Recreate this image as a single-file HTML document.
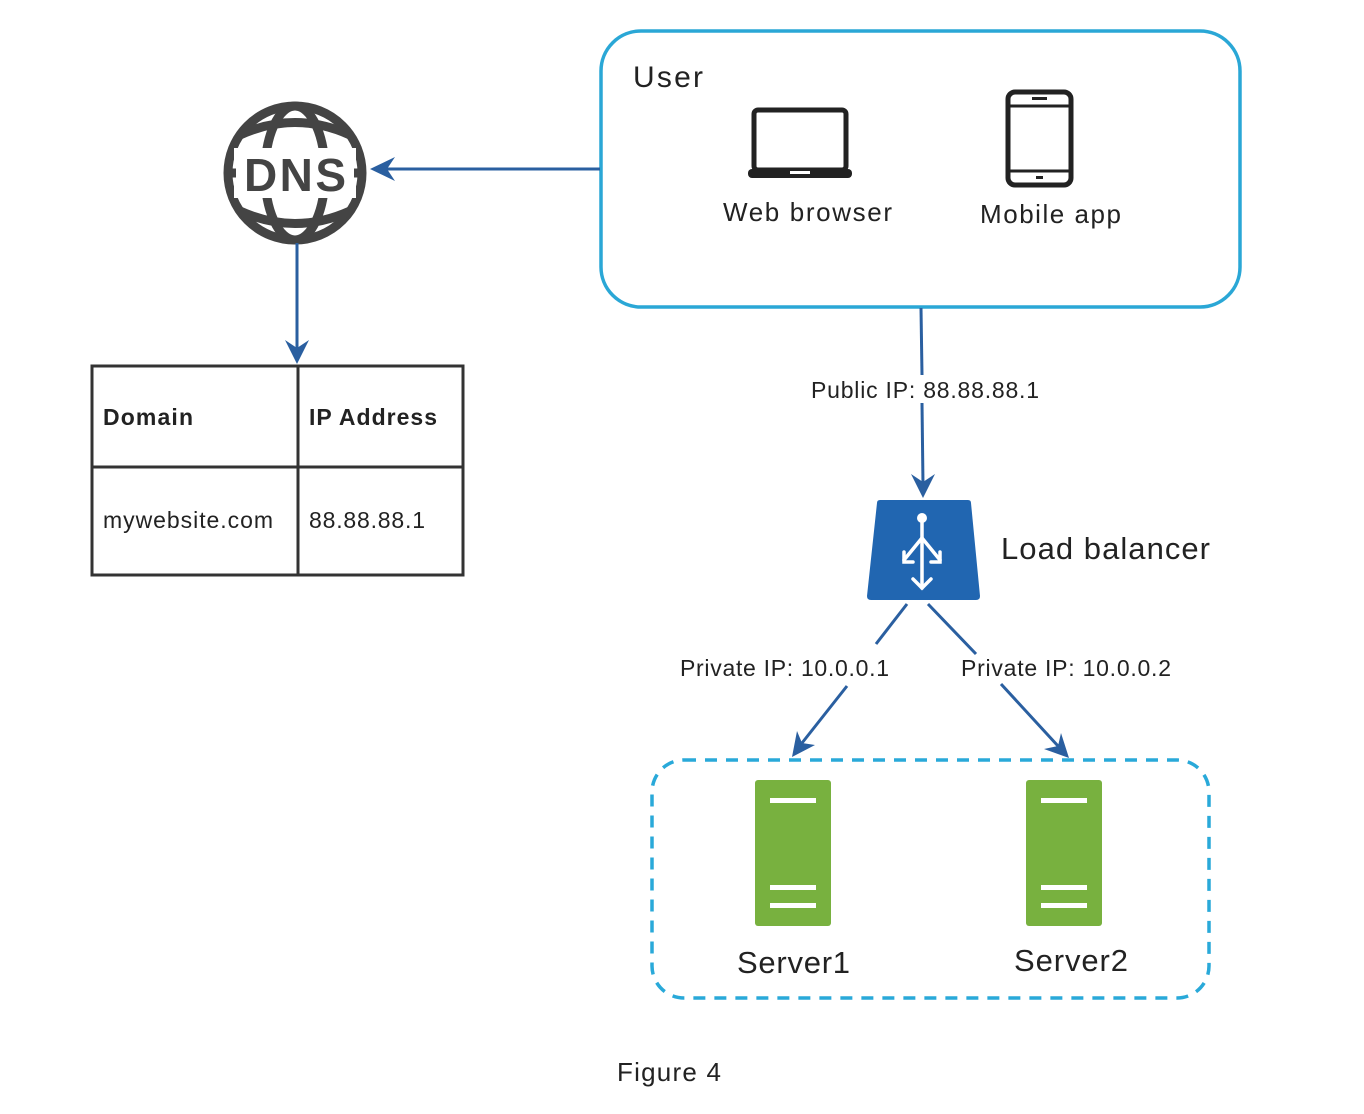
<!DOCTYPE html>
<html><head><meta charset="utf-8"><style>
html,body{margin:0;padding:0;background:#fff;}
svg{display:block;}
text{font-family:"Liberation Sans",sans-serif;}
</style></head><body>
<svg width="1364" height="1114" viewBox="0 0 1364 1114" xmlns="http://www.w3.org/2000/svg">
<rect x="601" y="31" width="639" height="276" rx="40" fill="none" stroke="#2aa7d6" stroke-width="3.5"/>
<text x="633" y="87" font-size="30" fill="#222" textLength="70">User</text>
<rect x="754" y="110" width="92" height="60" rx="4" fill="none" stroke="#222" stroke-width="5"/>
<rect x="748" y="169" width="104" height="9" rx="4" fill="#222"/>
<rect x="790" y="171" width="20" height="3" fill="#fff"/>
<text x="723" y="221" font-size="26" fill="#222" textLength="169">Web browser</text>
<rect x="1008" y="92" width="63" height="93" rx="7" fill="none" stroke="#222" stroke-width="5"/>
<line x1="1010" y1="106" x2="1069" y2="106" stroke="#222" stroke-width="3"/>
<line x1="1010" y1="171" x2="1069" y2="171" stroke="#222" stroke-width="3"/>
<rect x="1032" y="97" width="15" height="3" fill="#222"/>
<rect x="1036" y="176" width="7" height="3" fill="#222"/>
<text x="980" y="223" font-size="26" fill="#222" textLength="141">Mobile app</text>
<g fill="none" stroke="#444" stroke-width="9">
<circle cx="295" cy="173" r="67"/>
<ellipse cx="295" cy="173" rx="30" ry="67"/>
<path d="M240 135 Q295 110 350 135"/>
<path d="M240 211 Q295 236 350 211"/>
</g>
<rect x="234" y="148" width="122" height="50" fill="#fff"/>
<text x="244" y="191" font-size="46" font-weight="bold" fill="#444" textLength="102">DNS</text>
<line x1="226" y1="173" x2="236" y2="173" stroke="#444" stroke-width="9"/>
<line x1="354" y1="173" x2="364" y2="173" stroke="#444" stroke-width="9"/>
<line x1="600" y1="169" x2="385" y2="169" stroke="#2a5fa0" stroke-width="3"/>
<path d="M370 169 L395 157 L387 169 L395 181 Z" fill="#2a5fa0"/>
<line x1="297" y1="243" x2="297" y2="350" stroke="#2a5fa0" stroke-width="3"/>
<path d="M297 364 L285 340 L297 348 L309 340 Z" fill="#2a5fa0"/>
<rect x="92" y="366" width="371" height="209" fill="none" stroke="#333" stroke-width="3"/>
<line x1="298" y1="366" x2="298" y2="575" stroke="#333" stroke-width="3"/>
<line x1="92" y1="467" x2="463" y2="467" stroke="#333" stroke-width="3"/>
<text x="103" y="425" font-size="23" font-weight="bold" fill="#222" textLength="90">Domain</text>
<text x="309" y="425" font-size="23" font-weight="bold" fill="#222" textLength="128">IP Address</text>
<text x="103" y="528" font-size="23" fill="#222" textLength="170">mywebsite.com</text>
<text x="309" y="528" font-size="23" fill="#222" textLength="116">88.88.88.1</text>
<line x1="921" y1="308" x2="922" y2="375" stroke="#2a5fa0" stroke-width="3"/>
<line x1="922" y1="403" x2="923" y2="485" stroke="#2a5fa0" stroke-width="3"/>
<path d="M923 498 L911 474 L923 482 L935 474 Z" fill="#2a5fa0"/>
<text x="811" y="398" font-size="23" fill="#222" textLength="228">Public IP: 88.88.88.1</text>
<path d="M880 500 L968 500 Q971 500 971 503 L980 596 Q980 600 976 600 L871 600 Q867 600 867 596 L877 503 Q877 500 880 500 Z" fill="#2166b1"/>
<g stroke="#fff" stroke-width="3.5" fill="none" stroke-linecap="round">
<line x1="922" y1="518" x2="922" y2="588"/>
<path d="M922 538 L904 560 M922 538 L940 560"/>
<path d="M904 552 L904 562 L913 562 M940 552 L940 562 L931 562"/>
<path d="M913 579 L922 588 L931 579"/>
</g>
<circle cx="922" cy="518" r="5" fill="#fff"/>
<text x="1001" y="559" font-size="31" fill="#222" textLength="209">Load balancer</text>
<line x1="907" y1="604" x2="876" y2="644" stroke="#2a5fa0" stroke-width="3"/>
<line x1="847" y1="686" x2="802" y2="743" stroke="#2a5fa0" stroke-width="3"/>
<path d="M792 757 L797 731 L802 743 L815 745 Z" fill="#2a5fa0"/>
<line x1="928" y1="604" x2="976" y2="654" stroke="#2a5fa0" stroke-width="3"/>
<line x1="1001" y1="684" x2="1058" y2="746" stroke="#2a5fa0" stroke-width="3"/>
<path d="M1069 758 L1044 749 L1058 746 L1061 733 Z" fill="#2a5fa0"/>
<text x="680" y="676" font-size="23" fill="#222" textLength="209">Private IP: 10.0.0.1</text>
<text x="961" y="676" font-size="23" fill="#222" textLength="210">Private IP: 10.0.0.2</text>
<rect x="652" y="760" width="557" height="238" rx="32" fill="none" stroke="#29a9d9" stroke-width="3.5" stroke-dasharray="12,9"/>
<rect x="755" y="780" width="76" height="146" rx="3" fill="#78b13f"/>
<rect x="770" y="798" width="46" height="5" fill="#fff"/>
<rect x="770" y="885" width="46" height="5" fill="#fff"/>
<rect x="770" y="903" width="46" height="5" fill="#fff"/>
<rect x="1026" y="780" width="76" height="146" rx="3" fill="#78b13f"/>
<rect x="1041" y="798" width="46" height="5" fill="#fff"/>
<rect x="1041" y="885" width="46" height="5" fill="#fff"/>
<rect x="1041" y="903" width="46" height="5" fill="#fff"/>
<text x="737" y="973" font-size="31" fill="#222" textLength="113">Server1</text>
<text x="1014" y="971" font-size="31" fill="#222" textLength="114">Server2</text>
<text x="617" y="1081" font-size="26" fill="#222" textLength="104">Figure 4</text>
</svg>
</body></html>
